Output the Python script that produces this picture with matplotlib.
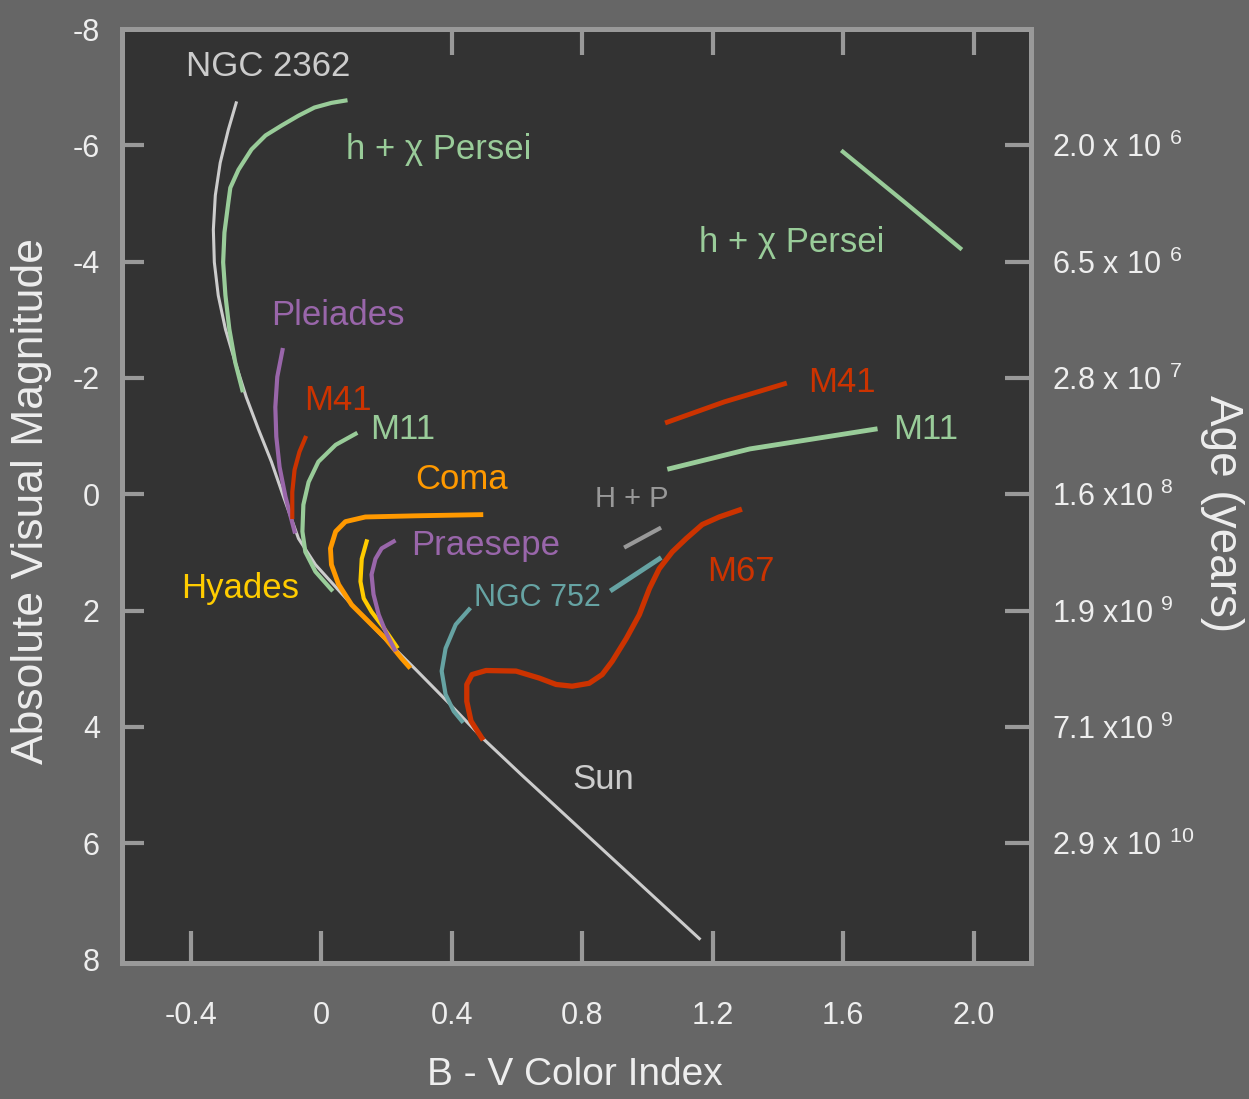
import matplotlib.pyplot as plt

plt.rcParams['font.family'] = ['Liberation Sans', 'DejaVu Sans']
plt.rcParams['mathtext.fontset'] = 'custom'
plt.rcParams['mathtext.rm'] = 'Liberation Sans'
plt.rcParams['mathtext.it'] = 'Liberation Sans'
plt.rcParams['mathtext.bf'] = 'Liberation Sans'
plt.rcParams['mathtext.default'] = 'regular'

# cluster sequences (B-V colour index, absolute visual magnitude)
ms_bv = [-0.261, -0.285, -0.310, -0.325, -0.331, -0.328, -0.316, -0.294, -0.264, -0.230,
         -0.193, -0.153, -0.116, -0.070, -0.018, 0.084, 0.185, 0.289, 0.391, 0.492,
         0.615, 1.159]
ms_mag = [-6.73, -6.27, -5.70, -5.14, -4.55, -3.99, -3.42, -2.84, -2.27, -1.67,
          -1.12, -0.56, 0.04, 0.76, 1.21, 1.84, 2.43, 3.01, 3.59, 4.18,
          4.83, 7.64]

persei_bv = [0.074, 0.031, -0.021, -0.070, -0.122, -0.171, -0.214, -0.254, -0.279, -0.285,
             -0.297, -0.301, -0.294, -0.282, -0.264, -0.242]
persei_mag = [-6.77, -6.73, -6.65, -6.51, -6.34, -6.17, -5.93, -5.58, -5.27, -5.02,
              -4.50, -3.99, -3.42, -2.84, -2.27, -1.79]
persei_giant_bv = [1.599, 1.789, 1.959]
persei_giant_mag = [-5.89, -5.02, -4.23]

pleiades_bv = [-0.119, -0.135, -0.141, -0.138, -0.128, -0.110, -0.082]
pleiades_mag = [-2.48, -2.02, -1.50, -0.99, -0.47, 0.04, 0.64]

m41_bv = [-0.049, -0.067, -0.082, -0.089, -0.089]
m41_mag = [-0.97, -0.73, -0.42, -0.04, 0.39]
m41_giant_bv = [1.061, 1.236, 1.420]
m41_giant_mag = [-1.24, -1.59, -1.90]

m11_bv = [0.105, 0.044, -0.009, -0.039, -0.055, -0.058, -0.049, -0.018, 0.031]
m11_mag = [-1.04, -0.85, -0.56, -0.21, 0.18, 0.64, 0.99, 1.33, 1.64]
m11_giant_bv = [1.068, 1.314, 1.698]
m11_giant_mag = [-0.44, -0.78, -1.12]

coma_bv = [0.489, 0.289, 0.135, 0.074, 0.044, 0.028, 0.031, 0.053, 0.093, 0.145, 0.197, 0.246, 0.268]
coma_mag = [0.35, 0.37, 0.39, 0.47, 0.64, 0.93, 1.21, 1.55, 1.90, 2.19, 2.48, 2.82, 2.96]

hyades_bv = [0.139, 0.124, 0.120, 0.130, 0.154, 0.188, 0.231]
hyades_mag = [0.81, 1.11, 1.50, 1.79, 2.02, 2.27, 2.62]

praesepe_bv = [0.222, 0.185, 0.166, 0.154, 0.160, 0.176, 0.197, 0.225]
praesepe_mag = [0.81, 0.93, 1.11, 1.38, 1.72, 2.07, 2.36, 2.67]

ngc752_bv = [0.453, 0.412, 0.381, 0.369, 0.381, 0.406, 0.431]
ngc752_mag = [1.98, 2.24, 2.65, 3.04, 3.44, 3.73, 3.90]
ngc752_giant_bv = [0.892, 1.036]
ngc752_giant_mag = [1.64, 1.11]

hp_bv = [0.934, 1.036]
hp_mag = [0.90, 0.59]

m67_bv = [0.492, 0.459, 0.446, 0.446, 0.462, 0.505, 0.597, 0.668, 0.720, 0.769, 0.821,
          0.861, 0.892, 0.935, 0.975, 1.006, 1.036, 1.076, 1.119, 1.168, 1.220, 1.282]
m67_mag = [4.19, 3.90, 3.56, 3.27, 3.10, 3.03, 3.04, 3.16, 3.27, 3.30, 3.25,
           3.10, 2.87, 2.48, 2.07, 1.62, 1.28, 0.99, 0.76, 0.52, 0.39, 0.27]

# axis ticks
x_ticks = [-0.4, 0, 0.4, 0.8, 1.2, 1.6, 2.0]
x_labels = ['-0.4', '0', '0.4', '0.8', '1.2', '1.6', '2.0']
top_ticks = [0.4, 0.8, 1.2, 1.6, 2.0]
y_ticks = [-8, -6, -4, -2, 0, 2, 4, 6, 8]
y_labels = ['-8', '-6', '-4', '-2', '0', '2', '4', '6', '8']
age_ticks = [-6, -4, -2, 0, 2, 4, 6]
age_labels = ['2.0 x 10 $^{6}$', '6.5 x 10 $^{6}$', '2.8 x 10 $^{7}$', '1.6 x10 $^{8}$',
              '1.9 x10 $^{9}$', '7.1 x10 $^{9}$', '2.9 x 10 $^{10}$']

# label texts: (text, bv, mag, colour)
labels = [
    ('NGC 2362', -0.414, -7.35, '#cccccc'),
    ('h + \u03c7 Persei', 0.077, -5.93, '#99cc99'),
    ('h + \u03c7 Persei', 1.159, -4.33, '#99cc99'),
    ('Pleiades', -0.155, -3.08, '#9966aa'),
    ('M41', -0.052, -1.62, '#cc3300'),
    ('M11', 0.151, -1.11, '#99cc99'),
    ('Coma', 0.287, -0.25, '#ff9900'),
    ('Praesepe', 0.274, 0.88, '#9966aa'),
    ('Hyades', -0.430, 1.62, '#ffcc00'),
    ('NGC 752', 0.468, 1.79, '#66a3a3'),
    ('H + P', 0.840, 0.08, '#999999'),
    ('M67', 1.184, 1.33, '#cc3300'),
    ('M41', 1.492, -1.93, '#cc3300'),
    ('M11', 1.752, -1.11, '#99cc99'),
    ('Sun', 0.769, 4.90, '#cccccc'),
]
small_labels = {'H + P': 21, 'NGC 752': 22}

fig = plt.figure(figsize=(12.49, 10.99), dpi=100, facecolor='#666666')
ax = fig.add_axes([0.0977, 0.1237, 0.7278, 0.8499])
ax.set_facecolor('#333333')

ax.plot(ms_bv, ms_mag, color='#cccccc', lw=2.2, solid_joinstyle='round')
ax.plot(persei_bv, persei_mag, color='#99cc99', lw=3)
ax.plot(persei_giant_bv, persei_giant_mag, color='#99cc99', lw=3)
ax.plot(pleiades_bv, pleiades_mag, color='#9966aa', lw=3)
ax.plot(m41_bv, m41_mag, color='#cc3300', lw=3)
ax.plot(m41_giant_bv, m41_giant_mag, color='#cc3300', lw=3.5)
ax.plot(m11_bv, m11_mag, color='#99cc99', lw=3)
ax.plot(m11_giant_bv, m11_giant_mag, color='#99cc99', lw=3.5)
ax.plot(coma_bv, coma_mag, color='#ff9900', lw=3.5)
ax.plot(hyades_bv, hyades_mag, color='#ffcc00', lw=3)
ax.plot(praesepe_bv, praesepe_mag, color='#9966aa', lw=3)
ax.plot(ngc752_bv, ngc752_mag, color='#66a3a3', lw=3)
ax.plot(ngc752_giant_bv, ngc752_giant_mag, color='#66a3a3', lw=3.5)
ax.plot(hp_bv, hp_mag, color='#999999', lw=3)
ax.plot(m67_bv, m67_mag, color='#cc3300', lw=3.8)

for txt, bx, my, col in labels:
    ax.text(bx, my, txt, color=col, fontsize=small_labels.get(txt, 25),
            ha='left', va='center')

ax.set_xlim(-0.611, 2.176)
ax.set_ylim(8.06, -8.0)

for s in ax.spines.values():
    s.set_color('#999999')
    s.set_linewidth(3.6)

ax.set_xticks(x_ticks)
ax.set_xticklabels(x_labels)
ax.set_yticks(y_ticks)
ax.set_yticklabels(y_labels)
ax.tick_params(axis='x', direction='in', length=23, width=3, color='#999999',
               labelcolor='#eeeeee', labelsize=22, pad=27)
ax.tick_params(axis='y', direction='in', length=16, width=3, color='#999999',
               labelcolor='#eeeeee', labelsize=22, pad=16)

top = ax.secondary_xaxis('top')
top.set_xticks(top_ticks)
top.tick_params(direction='in', length=19, width=3, color='#999999', labeltop=False)

right = ax.twinx()
right.set_ylim(ax.get_ylim())
right.set_yticks(age_ticks)
right.set_yticklabels(age_labels)
right.tick_params(axis='y', direction='in', length=19, width=3, color='#999999',
                  labelcolor='#eeeeee', labelsize=22, pad=15)
for s in right.spines.values():
    s.set_visible(False)

# -8 and 8 only carry labels (done after twinx, which resets tick visibility)
for t in (ax.yaxis.get_major_ticks()[0], ax.yaxis.get_major_ticks()[-1]):
    t.tick1line.set_visible(False)

fig.text(32 / 1249, 1 - 501 / 1099, 'Absolute Visual Magnitude', rotation=90,
         ha='center', va='center', color='#eeeeee', fontsize=32)
fig.text(1222 / 1249, 1 - 514 / 1099, 'Age (years)', rotation=270,
         ha='center', va='center', color='#eeeeee', fontsize=33)
fig.text(575 / 1249, 1 - 1075 / 1099, 'B - V Color Index',
         ha='center', va='center', color='#eeeeee', fontsize=28)

fig.savefig('out.png', dpi=100, facecolor=fig.get_facecolor())
